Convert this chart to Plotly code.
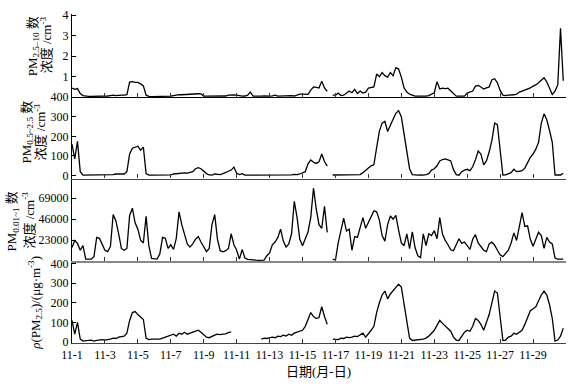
import pandas as pd
import plotly.graph_objects as go

# ---- data (4-hour samples, 6 per day, 1 Nov -> 30 Nov) ----
times = pd.date_range("2019-11-01", periods=180, freq="4h")

pm_coarse = [  # PM2.5-10 number concentration /cm^-3
    0.45, 0.38, 0.42, 0.18, 0.08, 0.05,
    0.04, 0.04, 0.04, 0.05, 0.04, 0.05,
    0.05, 0.06, 0.08, 0.10, 0.08, 0.10,
    0.10, 0.10, 0.12, 0.74, 0.76, 0.72,
    0.72, 0.65, 0.55, 0.10, 0.04, 0.03,
    0.03, 0.03, 0.04, 0.03, 0.03, 0.04,
    0.05, 0.08, 0.12, 0.13, 0.12, 0.13,
    0.15, 0.16, 0.17, 0.18, 0.17, 0.16,
    0.06, 0.05, 0.05, 0.04, 0.05, 0.05,
    0.05, 0.05, 0.06, 0.10, 0.12, 0.11,
    0.10, 0.06, 0.05, 0.06, 0.10, 0.25,
    0.06, 0.05, 0.04, 0.05, 0.06, 0.05,
    0.05, 0.07, 0.10, 0.05, 0.06, 0.08,
    0.06, 0.10, 0.08, 0.06, 0.12, 0.15,
    0.15, 0.16, 0.14, 0.35, 0.50, 0.48,
    0.45, 0.78, 0.45, 0.29, None, 0.10,
    0.10, 0.20, 0.08, 0.10, 0.20, 0.30,
    0.22, 0.38, 0.18, 0.30, 0.20, 0.25,
    0.44, 0.48, 0.50, 1.13, 1.00, 1.20,
    1.05, 0.98, 1.20, 1.05, 1.44, 1.37,
    0.98, 0.45, 0.25, 0.15, 0.08, 0.05,
    0.05, 0.04, 0.05, 0.05, 0.08, 0.15,
    0.22, 0.76, 0.40, 0.44, 0.42, 0.44,
    0.30, 0.17, 0.05, 0.05, 0.04, 0.05,
    0.20, 0.25, 0.30, 0.54, 0.57, 0.50,
    0.40, 0.45, 0.50, 0.85, 0.90, 0.70,
    0.33, 0.10, 0.08, 0.10, 0.10, 0.12,
    0.15, 0.25, 0.30, 0.35, 0.40, 0.45,
    0.54, 0.60, 0.70, 0.85, 0.95, 0.75,
    0.40, 0.13, 0.30, 0.60, 3.35, 0.80,
]

pm_fine = [  # PM0.5-2.5 number concentration /cm^-3
    160, 85, 175, 20, 2, 2,
    2, 2, 2, 2, 2, 2,
    2, 3, 3, 5, 8, 8,
    5, 8, 20, 110, 140, 145,
    150, 130, 145, 10, 2, 2,
    2, 2, 2, 2, 2, 3,
    4, 8, 10, 10, 15, 14,
    12, 16, 20, 35, 40, 35,
    20, 10, 3, 2, 8, 6,
    5, 10, 18, 22, 28, 43,
    12, 5, 10, 2, 2, 2,
    2, 2, 2, 2, 2, 2,
    3, 4, 3, 5, 3, 4,
    3, 5, 4, 6, 5, 8,
    12, 20, 60, 80, 68, 62,
    70, 110, 72, 48, None, 3,
    3, 2, 4, 3, 5, 3,
    4, 3, 5, 5, 15, 25,
    38, 50, 55, 143, 227, 268,
    277, 225, 260, 288, 318, 332,
    300, 210, 110, 35, 5, 2,
    2, 3, 2, 5, 10, 28,
    35, 50, 75, 82, 85, 80,
    75, 30, 5, 2, 20, 28,
    32, 25, 45, 80, 125, 110,
    55, 75, 120, 180, 268, 260,
    127, 3, 4, 10, 15, 32,
    20, 22, 25, 38, 70, 93,
    110, 135, 170, 268, 315, 285,
    230, 170, 3, 3, 3, 12,
]

pm_ultra = [  # PM0.01-1 number concentration /cm^-3
    15000, 22700, 19500, 12000, 17000, 2300,
    2300, 2300, 5000, 26000, 25000, 19000,
    12000, 10500, 16000, 51000, 44000, 30000,
    14000, 12000, 14000, 50000, 58000, 42000,
    35000, 23000, 20000, 49000, 17000, 3000,
    2300, 2300, 8000, 26000, 25000, 14000,
    18000, 13000, 25000, 54000, 40000, 30000,
    19000, 15500, 19000, 24000, 27000, 21000,
    15500, 10500, 14000, 40000, 51000, 24000,
    11500, 10200, 11500, 14000, 30000, 18000,
    12000, 2300, 13000, 3500, 2000, 1500,
    1500, 1200, 1000, 1500, 1200, 6000,
    9000, 18000, 21000, 26000, 35000, 22000,
    15500, 19000, 30000, 65500, 48000, 24000,
    17000, 24600, 32000, 48000, 80000, 57000,
    40000, 36000, 60000, 31600, None, 2300,
    1500, 20000, 32000, 47000, 33000, 35000,
    12000, 27000, 26000, 37000, 47600, 36000,
    42300, 49400, 55000, 54000, 45000, 28000,
    22000, 40000, 49400, 46000, 50000, 34000,
    20000, 17000, 30000, 13700, 32000, 15000,
    6000, 4000, 30000, 17200, 30000, 28000,
    33400, 24600, 47600, 29700, 22700, 18000,
    12500, 11500, 18000, 24600, 19500, 21000,
    17000, 13000, 24000, 29000, 20000, 15500,
    12000, 10500, 19000, 20900, 17500, 12000,
    7000, 5000, 8300, 12000, 20000, 31000,
    22700, 36000, 53000, 38000, 38700, 24000,
    16500, 24000, 31600, 28000, 14000, 26000,
    21000, 19000, 3500, 2300, 2300, 2300,
]

pm25_mass = [  # rho(PM2.5) ug/m3
    110, 40, 100, 15, 5, 5,
    8, 10, 5, 8, 10, 12,
    10, 12, 15, 20, 18, 25,
    28, 30, 45, 110, 150, 155,
    140, 125, 115, 20, 12, 15,
    15, 12, 15, 20, 25, 30,
    35, 40, 30, 45, 40, 50,
    40, 45, 50, 55, 60, 50,
    35, 25, 22, 30, 35, 40,
    38, 40, 42, 48, 52, None,
    None, None, None, None, None, None,
    None, None, None, 15, 20, 18,
    20, 25, 22, 30, 28, 35,
    30, 40, 35, 45, 50, 55,
    60, 80, 120, 150, 130, 120,
    125, 180, 130, 90, None, 15,
    15, 12, 20, 18, 25, 22,
    25, 30, 28, 35, 45, 25,
    40, 60, 80, 150, 200, 240,
    260, 220, 245, 260, 280, 295,
    280, 190, 90, 20, 8, 10,
    10, 12, 15, 20, 30, 45,
    60, 85, 110, 95, 80, 70,
    55, 25, 10, 8, 30, 50,
    60, 55, 80, 120, 110, 90,
    60, 100, 140, 200, 260, 250,
    110, 8, 10, 25, 30, 45,
    40, 50, 60, 90, 130, 160,
    170, 180, 210, 240, 260, 240,
    190, 120, 5, 10, 30, 70,
]

tick_dates = pd.date_range("2019-11-01", "2019-12-01", freq="2D")
tick_labels = ["11-1", "11-3", "11-5", "11-7", "11-9", "11-11", "11-13", "11-15",
               "11-17", "11-19", "11-21", "11-23", "11-25", "11-27", "11-29", ""]
ultra_ticks = [23000, 46000, 69000]
ultra_tick_labels = ["23000", "46000", "69000"]

FONT = "Liberation Serif, Noto Sans CJK SC, serif"

# pixel helpers for annotation placement
L, R, T, B = 72, 566, 7, 343
def px(x):
    return (x - L) / (R - L)
def py(y):
    return (B - y) / (B - T)

fig = go.Figure()
panels = [
    (pm_coarse, "4"),
    (pm_fine, "3"),
    (pm_ultra, "2"),
    (pm25_mass, ""),
]
for vals, s in panels:
    fig.add_trace(go.Scatter(
        x=times, y=vals, mode="lines",
        line=dict(color="black", width=1.3),
        xaxis="x" + s, yaxis="y" + s,
        connectgaps=False, showlegend=False, hoverinfo="skip",
    ))

xcommon = dict(
    type="date", range=["2019-11-01", "2019-12-01"],
    tickvals=tick_dates, ticktext=tick_labels,
    ticks="inside", ticklen=4, tickcolor="#333", tickwidth=1,
    showline=True, showgrid=False, zeroline=False,
    tickfont=dict(family=FONT, size=12, color="black"),
)
ycommon = dict(
    ticks="inside", ticklen=4, tickcolor="black", tickwidth=1,
    showline=True, linecolor="black", linewidth=1,
    showgrid=False, zeroline=False,
    tickfont=dict(family=FONT, size=12, color="black"),
)

doms = {
    "4": [py(92), 1.0],
    "3": [py(175), py(92)],
    "2": [py(259.5), py(175)],
    "": [0.0, py(259.5)],
}
yranges = {
    "4": [0, 4.05],
    "3": [-15, 400],
    "2": [0, 90400],
    "": [-5, 412],
}
ytickvals = {
    "4": ([1, 2, 3, 4], None),
    "3": ([0, 100, 200, 300, 400], None),
    "2": (ultra_ticks, ultra_tick_labels),
    "": ([0, 100, 200, 300, 400], None),
}
xline = {
    "4": dict(linecolor="black", linewidth=1),
    "3": dict(linecolor="#444", linewidth=1.3),
    "2": dict(linecolor="#888", linewidth=2),
    "": dict(linecolor="#444", linewidth=1.3),
}

layout = dict(
    width=574, height=384, autosize=False,
    margin=dict(l=L, r=574 - R, t=T, b=384 - B),
    paper_bgcolor="white", plot_bgcolor="white",
    font=dict(family=FONT, size=12, color="black"),
)
for s in ["4", "3", "2", ""]:
    xa = dict(xcommon)
    xa.update(xline[s])
    xa["domain"] = [0, 1]
    xa["anchor"] = "y" + s
    if s != "":
        xa["showticklabels"] = False
        xa["matches"] = "x"
    ya = dict(ycommon)
    tv, tt = ytickvals[s]
    ya.update(domain=doms[s], range=yranges[s], tickvals=tv, anchor="x" + s)
    if tt is not None:
        ya["ticktext"] = tt
    layout["xaxis" + s] = xa
    layout["yaxis" + s] = ya

fig.update_layout(**layout)

tf = dict(family=FONT, size=13, color="black")
ann = [
    (33, 40, "PM<sub>2.5–10</sub> 数"),
    (46, 39, "浓度 /cm<sup>-3</sup>"),
    (27, 128, "PM<sub>0.5~2.5</sub> 数"),
    (40, 128, "浓度 /cm<sup>-3</sup>"),
    (13, 219, "PM<sub>0.01~1</sub> 数"),
    (28, 218, "浓度 /cm<sup>-3</sup>"),
    (35, 302, "<i>ρ</i>(PM<sub>2.5</sub>)/(μg·m<sup>-3</sup>)"),
]
for x, y, t in ann:
    fig.add_annotation(x=px(x), y=py(y), xref="paper", yref="paper", text=t,
                       textangle=-90, showarrow=False, font=tf,
                       xanchor="center", yanchor="middle")
fig.add_annotation(x=px(318), y=py(372), xref="paper", yref="paper",
                   text="日期(月-日)", showarrow=False, font=tf,
                   xanchor="center", yanchor="middle")

fig.write_html(
    "out.html",
    config={"displayModeBar": False},
    post_script="document.body.style.margin='0';document.body.style.overflow='hidden';",
)
